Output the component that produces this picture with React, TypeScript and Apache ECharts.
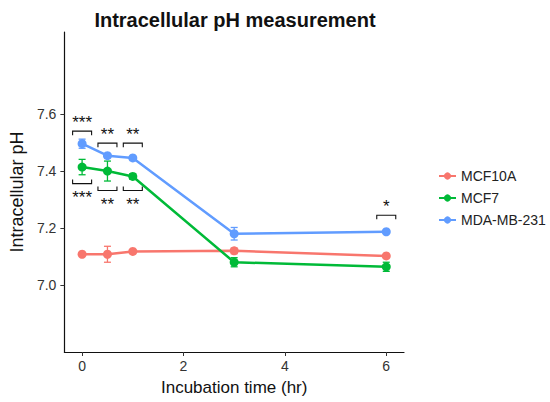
import React, { useEffect, useRef } from 'react';
import * as echarts from 'echarts';

const timePoints = [0, 0.5, 1, 3, 6];
const seriesNames = ['MCF10A', 'MCF7', 'MDA-MB-231'];
const mcf10aMean = [7.108, 7.108, 7.118, 7.12, 7.102];
const mcf10aErr = [0.004, 0.028, 0.005, 0.01, 0.005];
const mcf7Mean = [7.414, 7.4, 7.381, 7.08, 7.064];
const mcf7Err = [0.027, 0.035, 0.01, 0.016, 0.016];
const mdaMean = [7.496, 7.454, 7.446, 7.18, 7.187];
const mdaErr = [0.016, 0.006, 0.006, 0.022, 0.005];
const colors = ['#F8766D', '#00BA38', '#619CFF'];
const xTicks = [0, 2, 4, 6];
const yTicks = [7.0, 7.2, 7.4, 7.6];
const bracketX = [0, 0.5, 1, 0, 0.5, 1, 6];
const bracketY = [7.54, 7.498, 7.498, 7.356, 7.332, 7.332, 7.245];
const bracketDir = [1, 1, 1, -1, -1, -1, 1];
const bracketStars = ['***', '**', '**', '***', '**', '**', '*'];

const FONT = 'Liberation Sans, Arial, sans-serif';

export default function App() {
  const ref = useRef<HTMLDivElement>(null);
  useEffect(() => {
    document.body.style.margin = '0';
    const chart = echarts.init(ref.current!, null, { renderer: 'svg' });
    const means = [mcf10aMean, mcf7Mean, mdaMean];
    const errs = [mcf10aErr, mcf7Err, mdaErr];

    const errorSeries = means.map((m, si) => ({
      type: 'custom',
      z: 2,
      silent: true,
      data: timePoints.map((t, i) => [t, m[i] - errs[si][i], m[i] + errs[si][i]]),
      renderItem: (params: any, api: any) => {
        const x = api.value(0);
        const lo = api.coord([x, api.value(1)]);
        const hi = api.coord([x, api.value(2)]);
        const hw = 3.5;
        const style = { stroke: colors[si], lineWidth: 1.3, fill: 'none' };
        return {
          type: 'group',
          children: [
            { type: 'line', shape: { x1: lo[0], y1: lo[1], x2: hi[0], y2: hi[1] }, style },
            { type: 'line', shape: { x1: lo[0] - hw, y1: lo[1], x2: lo[0] + hw, y2: lo[1] }, style },
            { type: 'line', shape: { x1: hi[0] - hw, y1: hi[1], x2: hi[0] + hw, y2: hi[1] }, style },
          ],
        };
      },
      encode: { x: 0, y: [1, 2] },
    }));

    const lineSeries = means.map((m, si) => ({
      type: 'line',
      name: seriesNames[si],
      z: 3,
      color: colors[si],
      data: timePoints.map((t, i) => [t, m[i]]),
      symbol: 'circle',
      symbolSize: 9,
      showSymbol: true,
      lineStyle: { width: 2.5, color: colors[si] },
      itemStyle: { color: colors[si] },
    }));

    const bracketSeries = {
      type: 'custom',
      z: 5,
      silent: true,
      data: bracketX.map((x, i) => [x, bracketY[i], bracketDir[i]]),
      renderItem: (params: any, api: any) => {
        const i = params.dataIndex;
        const c = api.coord([api.value(0), api.value(1)]);
        const dir = api.value(2);
        const hw = 9.5;
        const tip = 4;
        const ty = c[1] + dir * tip;
        const textY = dir > 0 ? c[1] - 8.5 : c[1] + 14;
        return {
          type: 'group',
          children: [
            {
              type: 'polyline',
              shape: { points: [[c[0] - hw, ty], [c[0] - hw, c[1]], [c[0] + hw, c[1]], [c[0] + hw, ty]] },
              style: { stroke: '#111', lineWidth: 1.1, fill: 'none' },
            },
            {
              type: 'text',
              x: c[0],
              y: textY,
              style: {
                text: bracketStars[i],
                fontSize: 17,
                fontFamily: FONT,
                fill: '#111',
                align: 'center',
                verticalAlign: 'middle',
              },
            },
          ],
        };
      },
      encode: { x: 0, y: 1 },
    };

    chart.setOption({
      animation: false,
      title: {
        text: 'Intracellular pH measurement',
        left: 230,
        top: 5,
        textAlign: 'center',
        textStyle: { fontFamily: FONT, fontSize: 20, fontWeight: 'bold', color: '#111' },
      },
      legend: {
        data: seriesNames,
        orient: 'vertical',
        left: 433,
        top: 164,
        itemWidth: 17,
        itemHeight: 9,
        itemGap: 8,
        textStyle: { fontFamily: FONT, fontSize: 14, color: '#222' },
      },
      grid: { left: 55, right: 146, top: 32, bottom: 50, containLabel: false },
      xAxis: {
        type: 'value',
        min: -0.35,
        max: 6.35,
        name: 'Incubation time (hr)',
        nameLocation: 'middle',
        nameGap: 27,
        nameTextStyle: { fontFamily: FONT, fontSize: 17, color: '#111' },
        axisLine: { show: true, onZero: false, lineStyle: { color: '#111', width: 1.2 } },
        axisTick: { customValues: xTicks, length: 4, lineStyle: { color: '#333' } },
        axisLabel: {
          customValues: xTicks,
          margin: 7,
          fontFamily: FONT,
          fontSize: 14,
          color: '#333',
        },
        splitLine: { show: false },
      },
      yAxis: {
        type: 'value',
        min: 6.765,
        max: 7.888,
        name: 'Intracellular pH',
        nameLocation: 'middle',
        nameGap: 31,
        nameTextStyle: { fontFamily: FONT, fontSize: 18, color: '#111' },
        axisLine: { show: true, onZero: false, lineStyle: { color: '#111', width: 1.2 } },
        axisTick: { show: true, customValues: yTicks, length: 4, lineStyle: { color: '#333' } },
        axisLabel: {
          customValues: yTicks,
          margin: 8,
          fontFamily: FONT,
          fontSize: 14,
          color: '#333',
          formatter: (v: number) => v.toFixed(1),
        },
        splitLine: { show: false },
      },
      series: [...errorSeries, ...lineSeries, bracketSeries],
    });
    return () => chart.dispose();
  }, []);
  return <div ref={ref} style={{ width: 550, height: 402 }} />;
}
